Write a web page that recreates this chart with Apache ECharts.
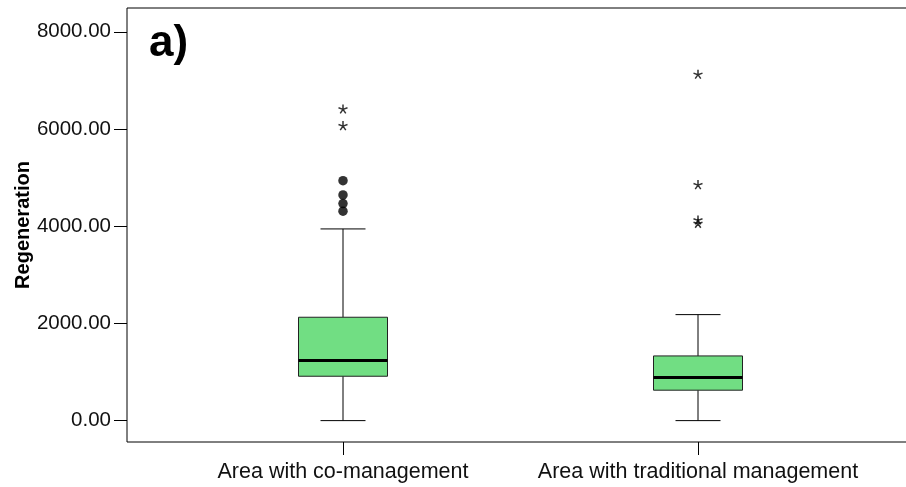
<!DOCTYPE html>
<html>
<head>
<meta charset="utf-8">
<script src="https://cdn.jsdelivr.net/npm/echarts@6/dist/echarts.min.js"></script>
<style>html,body{margin:0;padding:0;background:#fff}#c{width:906px;height:487px}</style>
</head>
<body>
<div id="c"></div>
<script>
var categories = ['Area with co-management', 'Area with traditional management'];
// [min, Q1, median, Q3, max]
var boxStats = [
  [0, 913, 1235, 2127, 3944],
  [0, 626, 885, 1331, 2181]
];
// outliers drawn as filled circles: [categoryIndex, value]
var circleOutliers = [[0, 4938], [0, 4644], [0, 4465], [0, 4309]];
// extreme values drawn as stars: [categoryIndex, value]
var starOutliers = [[0, 6414], [0, 6070], [1, 7128], [1, 4856], [1, 4130], [1, 4060]];
var yTicks = [0, 2000, 4000, 6000, 8000];
var yMin = -440, yMax = 8490;

var boxData = boxStats.map(function (s, i) { return [i].concat(s); });
var FONT = 'Liberation Sans, Arial, sans-serif';
var starPath = 'path://M0 0 L0 -5 M0 0 L4.76 -1.55 M0 0 L2.94 4.05 M0 0 L-2.94 4.05 M0 0 L-4.76 -1.55';

var chart = echarts.init(document.getElementById('c'), null, {renderer: 'canvas'});
chart.setOption({
  animation: false,
  backgroundColor: '#fff',
  grid: [
    {left: 127, right: -3, top: 8, bottom: 45, show: true, borderColor: '#000', borderWidth: 1,
     backgroundColor: 'transparent', containLabel: false, outerBoundsMode: 'none'},
    {left: 165.5, width: 710, top: 8, bottom: 45, containLabel: false, outerBoundsMode: 'none'}
  ],
  xAxis: [
    {type: 'value', gridIndex: 0, show: false, min: 0, max: 1},
    {type: 'category', gridIndex: 1, data: categories, boundaryGap: true, position: 'bottom',
     axisLine: {show: false, onZero: false},
     axisTick: {show: true, alignWithLabel: true, length: 13, lineStyle: {color: '#000', width: 1}},
     axisLabel: {color: '#111', fontSize: 21.5, fontFamily: FONT, margin: 19, interval: 0},
     splitLine: {show: false}}
  ],
  yAxis: [
    {type: 'value', gridIndex: 0, min: yMin, max: yMax,
     name: 'Regeneration', nameLocation: 'middle', nameRotate: 90, nameGap: 94, nameMoveOverlap: false,
     nameTextStyle: {color: '#000', fontSize: 20, fontWeight: 'bold', fontFamily: FONT},
     axisLine: {show: false},
     axisTick: {show: true, length: 13, customValues: yTicks, lineStyle: {color: '#000', width: 1}},
     axisLabel: {customValues: yTicks, color: '#111', fontSize: 20.5, fontFamily: FONT, margin: 16,
                 formatter: function (v) { return v.toFixed(2); }},
     splitLine: {show: false}},
    {type: 'value', gridIndex: 1, min: yMin, max: yMax, show: false, splitLine: {show: false}}
  ],
  graphic: [
    {type: 'text', left: 149, top: 22, style: {text: 'a)', font: 'bold 44px ' + FONT, fill: '#000'}}
  ],
  series: [
    {
      type: 'custom', xAxisIndex: 1, yAxisIndex: 1, data: boxData,
      encode: {x: 0, y: [1, 2, 3, 4, 5]},
      renderItem: function (params, api) {
        var c = api.value(0);
        var pMin = api.coord([c, api.value(1)]);
        var pQ1 = api.coord([c, api.value(2)]);
        var pMed = api.coord([c, api.value(3)]);
        var pQ3 = api.coord([c, api.value(4)]);
        var pMax = api.coord([c, api.value(5)]);
        var x = pMin[0];
        var bw = 89, cw = 45;
        var ls = {stroke: '#000', lineWidth: 1};
        return {type: 'group', children: [
          {type: 'line', shape: {x1: x, y1: pMin[1], x2: x, y2: pQ1[1]}, style: ls},
          {type: 'line', shape: {x1: x, y1: pQ3[1], x2: x, y2: pMax[1]}, style: ls},
          {type: 'line', shape: {x1: x - cw / 2, y1: pMin[1], x2: x + cw / 2, y2: pMin[1]}, style: ls},
          {type: 'line', shape: {x1: x - cw / 2, y1: pMax[1], x2: x + cw / 2, y2: pMax[1]}, style: ls},
          {type: 'rect', shape: {x: x - bw / 2, y: pQ3[1], width: bw, height: pQ1[1] - pQ3[1]},
           style: {fill: '#71de83', stroke: '#222', lineWidth: 1}},
          {type: 'line', shape: {x1: x - bw / 2, y1: pMed[1], x2: x + bw / 2, y2: pMed[1]},
           style: {stroke: '#000', lineWidth: 3}}
        ]};
      }
    },
    {
      type: 'scatter', xAxisIndex: 1, yAxisIndex: 1, data: circleOutliers,
      symbol: 'circle', symbolSize: 9.5, itemStyle: {color: '#000'}
    },
    {
      type: 'scatter', xAxisIndex: 1, yAxisIndex: 1, data: starOutliers,
      symbol: starPath, symbolSize: [9, 9],
      itemStyle: {color: 'transparent', borderColor: '#000', borderWidth: 1.5}
    }
  ]
});
</script>
</body>
</html>
